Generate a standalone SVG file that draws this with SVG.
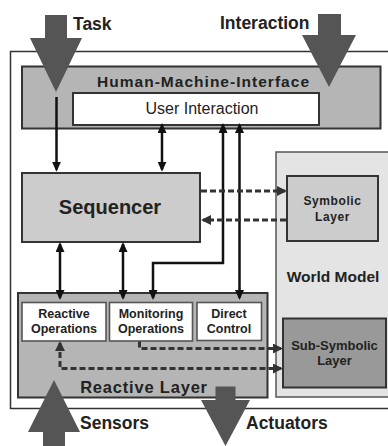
<svg xmlns="http://www.w3.org/2000/svg" width="388" height="446" viewBox="0 0 388 446">
<defs>
<style>
text{font-family:"Liberation Sans",Arial,sans-serif;fill:#222}
.b{font-weight:bold}
.box{stroke:#333;stroke-width:2}
.inner{fill:#fff;stroke:#555;stroke-width:1.6}
.conn{fill:none;stroke:#111;stroke-width:2.5}
.dash{fill:none;stroke:#333;stroke-width:3;stroke-dasharray:6 3}
.big{fill:#555}
</style>
<marker id="ah" viewBox="0 0 10 9" refX="8" refY="4.5" markerWidth="10" markerHeight="9" markerUnits="userSpaceOnUse" orient="auto-start-reverse"><path d="M0,0 L10,4.5 L0,9 z" fill="#111"/></marker>
<marker id="dh" viewBox="0 0 10 10" refX="8" refY="5" markerWidth="10" markerHeight="10" markerUnits="userSpaceOnUse" orient="auto-start-reverse"><path d="M0,0 L10,5 L0,10 z" fill="#333"/></marker>
</defs>
<rect width="388" height="446" fill="#fff"/>
<rect id="frame" x="10.5" y="51.5" width="390" height="357" fill="#fff" stroke="#333" stroke-width="1.5"/>

<g id="world-model">
<rect x="276" y="152" width="120" height="245" fill="#e4e4e4" stroke="#555" stroke-width="1.5"/>
<text class="b" x="333" y="282" font-size="15.5" text-anchor="middle">World Model</text>
</g>
<g id="symbolic-layer">
<rect class="box" x="287" y="176" width="91" height="65" fill="#cccccc" stroke="#555"/>
<text class="b" x="332.5" y="205" font-size="12" text-anchor="middle" letter-spacing="0.6">Symbolic</text>
<text class="b" x="332.5" y="221" font-size="12" text-anchor="middle" letter-spacing="0.6">Layer</text>
</g>
<g id="sub-symbolic-layer">
<rect class="box" x="283" y="318.5" width="103" height="69" fill="#999" stroke="#555"/>
<text class="b" x="334.5" y="349.5" font-size="13" text-anchor="middle">Sub-Symbolic</text>
<text class="b" x="334.5" y="365" font-size="13" text-anchor="middle">Layer</text>
</g>
<g id="hmi">
<rect class="box" x="22" y="66.5" width="358.5" height="62" fill="#b5b5b5"/>
<text class="b" x="203" y="86.5" font-size="15.5" text-anchor="middle" textLength="212" lengthAdjust="spacing">Human-Machine-Interface</text>
</g>
<g id="user-interaction">
<rect class="box" x="73" y="93" width="246" height="32" fill="#fff"/>
<text x="202" y="113.5" font-size="16" text-anchor="middle">User Interaction</text>
</g>
<g id="sequencer">
<rect class="box" x="22" y="173" width="178" height="69" fill="#cccccc"/>
<text class="b" x="110" y="214" font-size="20" text-anchor="middle">Sequencer</text>
</g>
<g id="reactive-layer">
<rect class="box" x="18" y="293" width="249.5" height="104.5" fill="#b5b5b5"/>
<text class="b" x="144" y="392.5" font-size="16.5" text-anchor="middle" letter-spacing="0.8">Reactive Layer</text>
</g>
<g id="reactive-operations">
<rect class="inner" x="22" y="302.5" width="84" height="38.5"/>
<text class="b" x="64" y="317.5" font-size="12.5" text-anchor="middle">Reactive</text>
<text class="b" x="64" y="333" font-size="12.5" text-anchor="middle">Operations</text>
</g>
<g id="monitoring-operations">
<rect class="inner" x="109.5" y="302.5" width="83" height="38.5"/>
<text class="b" x="151" y="317.5" font-size="12.5" text-anchor="middle">Monitoring</text>
<text class="b" x="151" y="333" font-size="12.5" text-anchor="middle">Operations</text>
</g>
<g id="direct-control">
<rect class="inner" x="197" y="302.5" width="64.5" height="38"/>
<text class="b" x="229" y="317.5" font-size="12.5" text-anchor="middle">Direct</text>
<text class="b" x="229" y="333" font-size="12.5" text-anchor="middle">Control</text>
</g>

<g id="connectors">
<path class="conn" d="M56.5,97 V169.7" marker-end="url(#ah)"/>
<path class="conn" d="M162,125 V169.7" marker-start="url(#ah)" marker-end="url(#ah)"/>
<path class="conn" d="M223,125 V263 H153 V298" marker-start="url(#ah)" marker-end="url(#ah)"/>
<path class="conn" d="M239.5,125 V298" marker-start="url(#ah)" marker-end="url(#ah)"/>
<path class="conn" d="M60,244 V298" marker-start="url(#ah)" marker-end="url(#ah)"/>
<path class="conn" d="M123,244 V298" marker-start="url(#ah)" marker-end="url(#ah)"/>
<path class="dash" d="M201,191 H285" marker-end="url(#dh)"/>
<path class="dash" d="M286,220 H203" marker-end="url(#dh)"/>
<path class="dash" d="M139.5,341.5 V348.5 H281" marker-end="url(#dh)"/>
<path class="dash" d="M60,343 V368.5 H281" marker-start="url(#dh)" marker-end="url(#dh)"/>
</g>

<g id="task">
<polygon class="big" points="45,15 67,15 67,38 82,38 56,92 30,38 45,38"/>
<text class="b" x="73" y="30" font-size="17.5">Task</text>
</g>
<g id="interaction">
<polygon class="big" points="318,14 341,14 341,35 356,35 329,87 302,35 318,35"/>
<text class="b" x="220" y="28.5" font-size="17.5">Interaction</text>
</g>
<g id="sensors">
<polygon class="big" points="43,446 65,446 65,432 80,432 54,380 28,432 43,432"/>
<text class="b" x="80" y="428.5" font-size="17.5">Sensors</text>
</g>
<g id="actuators">
<polygon class="big" points="215.5,386.5 235.5,386.5 235.5,400 250,400 225.5,446 201,400 215.5,400"/>
<text class="b" x="246" y="429" font-size="17.5">Actuators</text>
</g>
</svg>
